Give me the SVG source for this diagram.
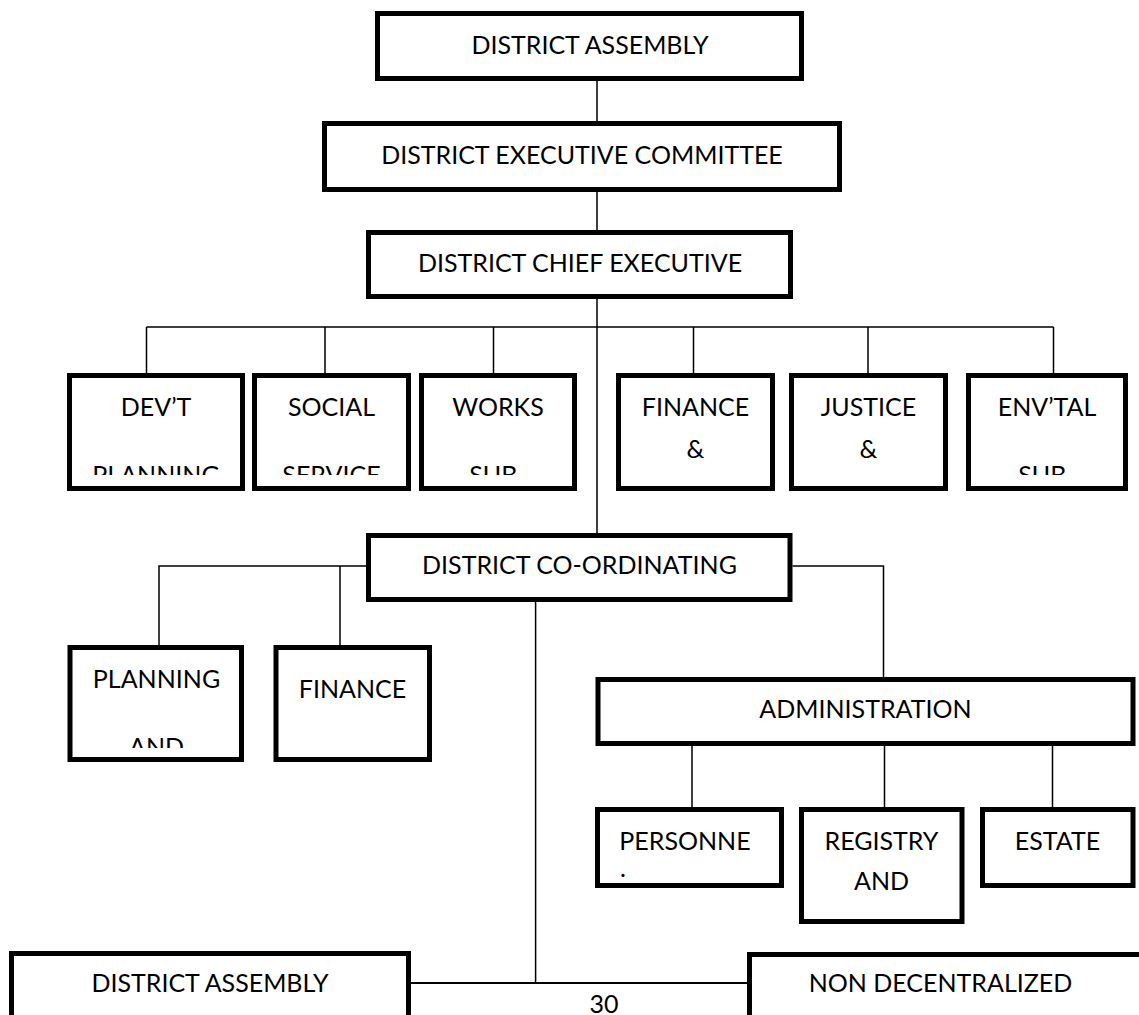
<svg xmlns="http://www.w3.org/2000/svg" width="1139" height="1015" viewBox="0 0 1139 1015">
<style>
.box{fill:#fff;stroke:#000;stroke-width:5}
.t{font-family:Lato,"Liberation Sans",sans-serif;font-size:25px;fill:#000;text-anchor:middle}
.c{fill:none;stroke:#000;stroke-width:1.5}
</style>
<defs>
<clipPath id="cr1"><rect x="0" y="440" width="1139" height="35"/></clipPath>
<clipPath id="cr2"><rect x="0" y="720" width="1139" height="28"/></clipPath>
</defs>
<rect width="1139" height="1015" fill="#fff"/>
<g id="connectors">
<path class="c" d="M597 81V121M597 192V230M597 299V533"/>
<path class="c" d="M146.5 327H1053.5M146.5 327V374M325 327V374M493.5 327V374M693.5 327V374M868 327V374M1053.5 327V374"/>
<path class="c" d="M366 566H159V645M340 566V645"/>
<path class="c" d="M792.5 566H883.5V677"/>
<path class="c" d="M692 746V807M884.5 746V807M1052.5 746V807"/>
<path class="c" d="M535.6 602V983"/>
<path class="c" d="M411 983H747" style="stroke-width:2"/>
</g>
<g id="n-district-assembly"><rect class="box" x="377.5" y="13.5" width="424" height="65"/><text class="t" x="590" y="54">DISTRICT ASSEMBLY</text></g>
<g id="n-exec-committee"><rect class="box" x="324.5" y="123.5" width="515" height="66"/><text class="t" x="582" y="164">DISTRICT EXECUTIVE COMMITTEE</text></g>
<g id="n-chief-exec"><rect class="box" x="368.5" y="232.5" width="422" height="64"/><text class="t" x="580" y="272">DISTRICT CHIEF EXECUTIVE</text></g>
<g id="n-devt"><rect class="box" x="69.5" y="375.5" width="173" height="113"/><text class="t" x="156" y="416">DEV’T</text><text class="t" x="156" y="484" clip-path="url(#cr1)">PLANNING</text></g>
<g id="n-social"><rect class="box" x="254.5" y="375.5" width="154" height="113"/><text class="t" x="331.5" y="416">SOCIAL</text><text class="t" x="331.5" y="484" clip-path="url(#cr1)">SERVICE</text></g>
<g id="n-works"><rect class="box" x="421.5" y="375.5" width="153" height="113"/><text class="t" x="498" y="416">WORKS</text><text class="t" x="498" y="484" clip-path="url(#cr1)">SUB-</text></g>
<g id="n-finance"><rect class="box" x="618.5" y="375.5" width="154" height="113"/><text class="t" x="695.5" y="416">FINANCE</text><text class="t" x="695.5" y="458">&amp;</text></g>
<g id="n-justice"><rect class="box" x="791.5" y="375.5" width="154" height="113"/><text class="t" x="868.5" y="416">JUSTICE</text><text class="t" x="868.5" y="458">&amp;</text></g>
<g id="n-envtal"><rect class="box" x="968.5" y="375.5" width="157" height="113"/><text class="t" x="1047" y="416">ENV’TAL</text><text class="t" x="1047" y="484" clip-path="url(#cr1)">SUB-</text></g>
<g id="n-coordinating"><rect class="box" x="368.5" y="535.5" width="421.5" height="64"/><text class="t" x="579.5" y="574">DISTRICT CO-ORDINATING</text></g>
<g id="n-planning"><rect class="box" x="70" y="647.5" width="171.5" height="112"/><text class="t" x="156.5" y="688">PLANNING</text><text class="t" x="156.5" y="756" clip-path="url(#cr2)">AND</text></g>
<g id="n-finance2"><rect class="box" x="276" y="647.5" width="153.5" height="112"/><text class="t" x="352.5" y="698">FINANCE</text></g>
<g id="n-administration"><rect class="box" x="598" y="679.5" width="535" height="64"/><text class="t" x="865.5" y="718">ADMINISTRATION</text></g>
<g id="n-personnel"><rect class="box" x="597.5" y="809.5" width="184" height="76"/><text class="t" x="685" y="850">PERSONNE</text><text class="t" x="623" y="877">.</text></g>
<g id="n-registry"><rect class="box" x="801.5" y="809.5" width="160.5" height="112"/><text class="t" x="881.5" y="850">REGISTRY</text><text class="t" x="881.5" y="890">AND</text></g>
<g id="n-estate"><rect class="box" x="982.5" y="809.5" width="150.5" height="76"/><text class="t" x="1057.5" y="850">ESTATE</text></g>
<g id="n-district-assembly-2"><rect class="box" x="11.5" y="953.5" width="397" height="100"/><text class="t" x="210" y="992">DISTRICT ASSEMBLY</text></g>
<g id="n-non-decentralized"><rect class="box" x="749.5" y="954.5" width="420" height="100"/><text class="t" x="940.5" y="992">NON DECENTRALIZED</text></g>
<text class="t" x="604" y="1013">30</text>
</svg>
